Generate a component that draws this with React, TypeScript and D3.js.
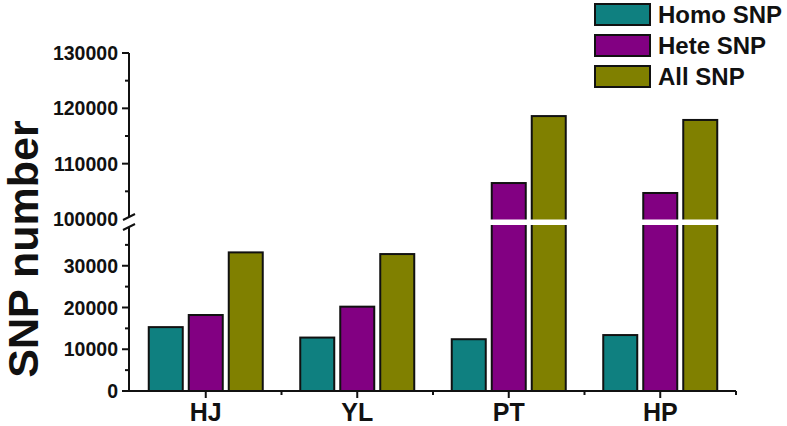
import React from "react";
import * as d3 from "d3";

const categories = ["HJ", "YL", "PT", "HP"];
const seriesNames = ["Homo SNP", "Hete SNP", "All SNP"];
const homoSNP = [15300, 12800, 12400, 13400];
const heteSNP = [18200, 20200, 106500, 104700];
const allSNP = [33200, 32800, 118600, 117900];
const seriesColors = ["#0f8080", "#820082", "#808000"];
const lowerTicks = [0, 10000, 20000, 30000];
const upperTicks = [100000, 110000, 120000, 130000];

export default function App() {
    const ref = React.useRef<SVGSVGElement>(null);

    React.useEffect(() => {
        const width = 787;
        const height = 426;
        const font = "Arial, 'Liberation Sans', sans-serif";
        const axisLeft = 129;
        const baseY = 391;
        const breakBottom = 225; // top of lower segment
        const breakTop = 219; // bottom of upper segment

        const values = [homoSNP, heteSNP, allSNP];

        const x = d3.scaleBand().domain(categories).range([130, 736]);
        const xInner = d3
            .scaleBand()
            .domain(seriesNames)
            .range([-57, 57])
            .paddingInner(0.15);

        const yLow = d3.scaleLinear().domain([0, 40000]).range([baseY, 224]);
        const yHigh = d3
            .scaleLinear()
            .domain([100000, 130000])
            .range([breakTop, 53]);
        const y = (v) => (v > 40000 ? yHigh(v) : yLow(v));

        const svg = d3
            .select(ref.current)
            .attr("width", width)
            .attr("height", height)
            .attr("viewBox", [0, 0, width, height]);

        // bars
        const rows = categories.flatMap((c, i) =>
            seriesNames.map((s, j) => ({ cat: c, series: s, idx: j, value: values[j][i] }))
        );
        svg.append("g")
            .selectAll()
            .data(rows)
            .join("rect")
            .attr("x", (d) => x(d.cat) + x.bandwidth() / 2 + xInner(d.series))
            .attr("y", (d) => y(d.value))
            .attr("width", xInner.bandwidth())
            .attr("height", (d) => baseY - y(d.value))
            .attr("fill", (d) => seriesColors[d.idx])
            .attr("stroke", "#111")
            .attr("stroke-width", 2);

        // white break gap through tall bars
        svg.append("g")
            .selectAll()
            .data(rows.filter((d) => d.value > 40000))
            .join("rect")
            .attr("x", (d) => x(d.cat) + x.bandwidth() / 2 + xInner(d.series) - 2)
            .attr("y", breakTop + 0.5)
            .attr("width", xInner.bandwidth() + 4)
            .attr("height", breakBottom - breakTop - 0.5)
            .attr("fill", "#fff");

        const ax = svg.append("g").attr("stroke", "#111").attr("stroke-width", 2);

        // y axis segments
        ax.append("line").attr("x1", axisLeft).attr("x2", axisLeft).attr("y1", baseY).attr("y2", breakBottom + 2);
        ax.append("line").attr("x1", axisLeft).attr("x2", axisLeft).attr("y1", breakTop - 2).attr("y2", yHigh(130000));
        // break marks
        ax.append("line").attr("x1", axisLeft - 6).attr("y1", breakTop + 1).attr("x2", axisLeft + 6).attr("y2", breakTop - 5);
        ax.append("line").attr("x1", axisLeft - 6).attr("y1", breakBottom + 5).attr("x2", axisLeft + 6).attr("y2", breakBottom - 1);

        // y ticks
        const lowMinor = [5000, 15000, 25000, 35000];
        const highMinor = [105000, 115000, 125000];
        ax.selectAll(".ymaj")
            .data(lowerTicks.map(yLow).concat(upperTicks.slice(1).map(yHigh)))
            .join("line")
            .attr("x1", axisLeft - 7)
            .attr("x2", axisLeft)
            .attr("y1", (d) => d)
            .attr("y2", (d) => d);
        ax.selectAll(".ymin")
            .data(lowMinor.map(yLow).concat(highMinor.map(yHigh)))
            .join("line")
            .attr("x1", axisLeft - 4)
            .attr("x2", axisLeft)
            .attr("y1", (d) => d)
            .attr("y2", (d) => d);

        // x axis
        ax.append("line").attr("x1", axisLeft - 1).attr("x2", 736).attr("y1", baseY).attr("y2", baseY);
        ax.selectAll(".xmaj")
            .data(categories)
            .join("line")
            .attr("x1", (d) => x(d) + x.bandwidth() / 2)
            .attr("x2", (d) => x(d) + x.bandwidth() / 2)
            .attr("y1", baseY)
            .attr("y2", baseY + 7);
        ax.selectAll(".xmin")
            .data(categories)
            .join("line")
            .attr("x1", (d) => x(d) + x.bandwidth())
            .attr("x2", (d) => x(d) + x.bandwidth())
            .attr("y1", baseY)
            .attr("y2", baseY + 4);

        // tick labels
        const tl = svg
            .append("g")
            .attr("font-family", font)
            .attr("font-weight", "bold")
            .attr("font-size", 19.5)
            .attr("fill", "#111")
            .attr("text-anchor", "end");
        tl.selectAll(".lo")
            .data(lowerTicks)
            .join("text")
            .attr("x", axisLeft - 11)
            .attr("y", (d) => yLow(d))
            .attr("dy", "0.36em")
            .text((d) => String(d));
        tl.selectAll(".hi")
            .data(upperTicks)
            .join("text")
            .attr("x", axisLeft - 11)
            .attr("y", (d) => yHigh(d))
            .attr("dy", "0.36em")
            .text((d) => String(d));

        svg.append("g")
            .attr("font-family", font)
            .attr("font-weight", "bold")
            .attr("font-size", 25)
            .attr("fill", "#111")
            .attr("text-anchor", "middle")
            .selectAll()
            .data(categories)
            .join("text")
            .attr("x", (d) => x(d) + x.bandwidth() / 2)
            .attr("y", 421)
            .text((d) => d);

        // y title
        svg.append("text")
            .attr("transform", "translate(38,249) rotate(-90)")
            .attr("font-family", font)
            .attr("font-weight", "bold")
            .attr("font-size", 43)
            .attr("fill", "#111")
            .attr("text-anchor", "middle")
            .text("SNP number");

        // legend
        const lg = svg
            .append("g")
            .selectAll()
            .data(seriesNames)
            .join("g")
            .attr("transform", (d, i) => `translate(595,${4 + i * 31})`);
        lg.append("rect")
            .attr("width", 55)
            .attr("height", 21)
            .attr("fill", (d, i) => seriesColors[i])
            .attr("stroke", "#111")
            .attr("stroke-width", 2);
        lg.append("text")
            .attr("x", 63)
            .attr("y", 19)
            .attr("font-family", font)
            .attr("font-weight", "bold")
            .attr("font-size", 24)
            .attr("fill", "#111")
            .text((d) => d);

        return () => {
            svg.selectAll("*").remove();
        };
    }, []);

    return (
        <svg
            ref={ref}
            style={{ position: "absolute", left: 0, top: 0, display: "block", background: "#fff" }}
        ></svg>
    );
}
